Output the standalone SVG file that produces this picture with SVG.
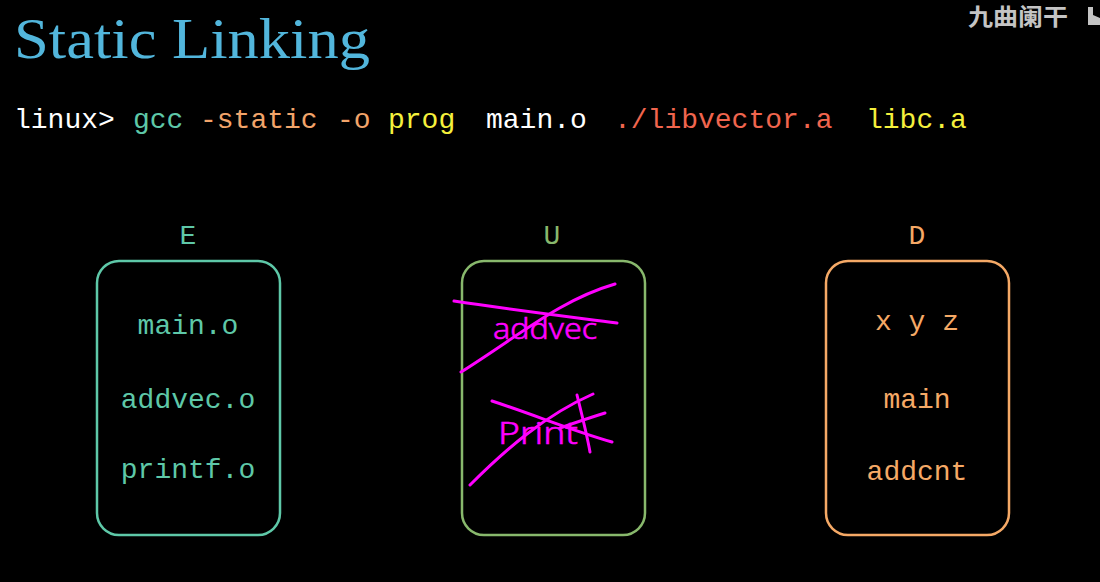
<svg xmlns="http://www.w3.org/2000/svg" width="1100" height="582" viewBox="0 0 1100 582">
  <style>
    .title { font-family: "Liberation Serif", "DejaVu Serif", serif; font-size: 56px; fill: #52b6dc; }
    .cmd { font-family: "Liberation Mono", "DejaVu Sans Mono", monospace; font-size: 28px; }
    .lbl { font-family: "Liberation Mono", "DejaVu Sans Mono", monospace; font-size: 28px; text-anchor: middle; }
    .item { font-family: "Liberation Mono", "DejaVu Sans Mono", monospace; font-size: 28px; text-anchor: middle; }
    .box { fill: none; stroke-width: 2.5; }
    .ink { fill: none; stroke: #ff00ff; stroke-width: 3; stroke-linecap: round; stroke-linejoin: round; }
    .inktext { font-family: "Noto Sans", "DejaVu Sans", sans-serif; font-weight: 300; fill: #ff00ff; stroke: #ff00ff; stroke-width: 0.6; }
    .mark { font-family: "Noto Sans CJK SC", "Noto Sans", sans-serif; font-weight: 700; font-size: 23px; fill: #c4c4c4; }
  </style>

  <rect width="1100" height="582" fill="#000"/>

  <!-- heading -->
  <text class="title" x="14" y="58" textLength="356" lengthAdjust="spacingAndGlyphs">Static Linking</text>

  <!-- channel mark, top right -->
  <text class="mark" x="968" y="25" textLength="100" lengthAdjust="spacingAndGlyphs">九曲阑干</text>
  <path d="M1088 7 L1093 7 L1093 15 L1100 18 L1100 25 L1088 25 Z" fill="#c4c4c4"/>

  <!-- command line -->
  <g id="command">
    <text class="cmd" x="14" y="128" fill="#ffffff">linux&gt;</text>
    <text class="cmd" x="133" y="128" fill="#5ec8a8">gcc</text>
    <text class="cmd" x="200" y="128" fill="#f2a46a">-static</text>
    <text class="cmd" x="337" y="128" fill="#f2a46a">-o</text>
    <text class="cmd" x="388" y="128" fill="#f5f03c">prog</text>
    <text class="cmd" x="486" y="128" fill="#ffffff">main.o</text>
    <text class="cmd" x="614" y="128" fill="#f0654e">./libvector.a</text>
    <text class="cmd" x="866" y="128" fill="#f5f03c">libc.a</text>
  </g>

  <!-- E: relocatable object files -->
  <g id="set-E">
    <text class="lbl" x="188" y="244" fill="#5ec8a8">E</text>
    <rect class="box" x="97" y="261" width="183" height="274" rx="22" stroke="#5ec8a8"/>
    <text class="item" x="188" y="334" fill="#5ec8a8">main.o</text>
    <text class="item" x="188" y="408" fill="#5ec8a8">addvec.o</text>
    <text class="item" x="188" y="478" fill="#5ec8a8">printf.o</text>
  </g>

  <!-- U: unresolved symbols, crossed out by hand -->
  <g id="set-U">
    <text class="lbl" x="552" y="244" fill="#88b86c">U</text>
    <rect class="box" x="462" y="261" width="183" height="274" rx="22" stroke="#88b86c"/>
    <text class="inktext" x="493" y="339" font-size="30" textLength="104" lengthAdjust="spacingAndGlyphs">addvec</text>
    <path class="ink" d="M454 301 C500 308 540 313 617 323"/>
    <path class="ink" d="M461 372 C520 335 560 300 615 284"/>
    <text class="inktext" x="498" y="444" font-size="32" textLength="80" lengthAdjust="spacingAndGlyphs">Print</text>
    <path class="ink" d="M577 395 C582 415 587 435 590 452"/>
    <path class="ink" d="M560 428 C580 421 592 417 605 413"/>
    <path class="ink" d="M492 401 C535 415 570 430 612 442"/>
    <path class="ink" d="M470 485 C505 450 545 415 593 394"/>
  </g>

  <!-- D: defined symbols -->
  <g id="set-D">
    <text class="lbl" x="917" y="244" fill="#f5a966">D</text>
    <rect class="box" x="826" y="261" width="183" height="274" rx="22" stroke="#f5a966"/>
    <text class="item" x="917" y="330" fill="#f5a966">x y z</text>
    <text class="item" x="917" y="408" fill="#f5a966">main</text>
    <text class="item" x="917" y="480" fill="#f5a966">addcnt</text>
  </g>

  <g id="connectors"/>
</svg>
